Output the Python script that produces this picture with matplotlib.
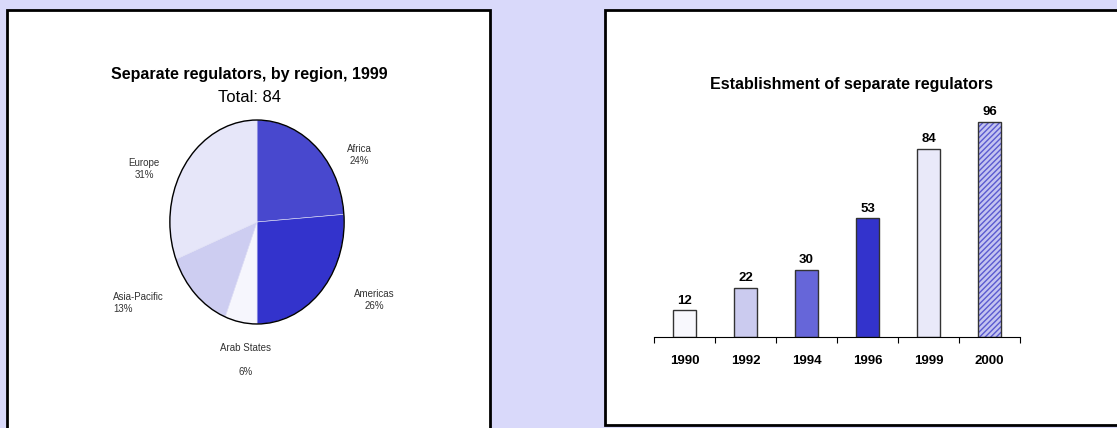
import numpy as np
import matplotlib
matplotlib.use('Agg')
import matplotlib.pyplot as plt
from matplotlib.patches import Rectangle, Ellipse

plt.rcParams['font.family'] = ['Liberation Sans', 'DejaVu Sans']
plt.rcParams['hatch.linewidth'] = 1.0

# pie data: separate regulators by region, 1999
regions = ['Africa', 'Americas', 'Arab States', 'Asia-Pacific', 'Europe']
region_counts = [20, 22, 5, 11, 26]
region_colors = ['#4848CE', '#3333CC', '#F6F6FD', '#CDCDF1', '#E6E6F9']

# bar data: establishment of separate regulators
years = ['1990', '1992', '1994', '1996', '1999', '2000']
regulators = [12, 22, 30, 53, 84, 96]
bar_colors = ['#F8F8FD', '#CBCBEF', '#6666D9', '#3333CC', '#E9E9F9', '#C4C4F0']

W, H = 1117, 428
fig = plt.figure(figsize=(W / 100, H / 100), dpi=100, facecolor='#D9D9FA')

def fx(px):
    return px / W

def fy(py):
    return 1 - py / H

# white panels with black frame
fig.patches.append(Rectangle((fx(7), fy(440)), fx(483), (440 - 10) / H,
                             transform=fig.transFigure, facecolor='white',
                             edgecolor='black', lw=2, zorder=-5))
fig.patches.append(Rectangle((fx(605), fy(425)), fx(530), (425 - 10) / H,
                             transform=fig.transFigure, facecolor='white',
                             edgecolor='black', lw=2, zorder=-5))

# ---- pie ----
total = sum(region_counts)
fig.text(fx(249), fy(74), 'Separate regulators, by region, 1999', ha='center',
         va='center', fontsize=11.5, fontweight='bold')
fig.text(fx(249), fy(97), 'Total: %d' % total, ha='center', va='center', fontsize=12)

ax1 = fig.add_axes([fx(257 - 88), fy(222 + 103), fx(176), 206 / H])
wedges, _ = ax1.pie(region_counts, colors=region_colors, startangle=90,
                    counterclock=False, wedgeprops=dict(linewidth=0.4, edgecolor='#E0E0F5'))
ax1.set_aspect('auto')
ax1.set_xlim(-1.01, 1.01)
ax1.set_ylim(-1.01, 1.01)
ax1.add_patch(Ellipse((0, 0), 2, 2, fill=False, edgecolor='black', lw=1))
ax1.axis('off')

# label anchors (pixels) and alignment for each region
label_pos = [(359, 155, 'center'), (374, 300, 'center'), (246, 360, 'center'),
             (113, 303, 'left'), (144, 169, 'center')]
for name, cnt, (px, py, ha) in zip(regions, region_counts, label_pos):
    pct = round(100.0 * cnt / total)
    gap = '\n\n' if name == 'Arab States' else '\n'
    fig.text(fx(px), fy(py), '%s%s%d%%' % (name, gap, pct), ha=ha, va='center',
             fontsize=7, color='#333333', multialignment=ha, linespacing=1.25)

# ---- bars ----
fig.text(fx(852), fy(84), 'Establishment of separate regulators', ha='center',
         va='center', fontsize=11.5, fontweight='bold')

ax2 = fig.add_axes([fx(654), fy(337), fx(366), 240 / H])
x = np.arange(len(years))
ax2.bar(x, regulators, width=0.39, color=bar_colors, edgecolor='none', lw=0)
# diagonal hatch on the last bar, drawn in blue
ax2.bar(x[-1:], regulators[-1:], width=0.39, color='none', edgecolor='#5A5AD0',
        hatch='//////', lw=0)
ax2.bar(x, regulators, width=0.39, color='none', edgecolor='#333333', lw=1)
for xi, v in zip(x, regulators):
    ax2.text(xi, v + 1.5, str(v), ha='center', va='bottom', fontsize=9.5, fontweight='bold')
ax2.set_xlim(-0.5, len(years) - 0.5)
ax2.set_ylim(0, 107)
for s in ['top', 'right', 'left']:
    ax2.spines[s].set_visible(False)
ax2.spines['bottom'].set_linewidth(0.8)
ax2.set_yticks([])
ax2.set_xticks(x)
ax2.set_xticklabels(years, fontsize=9.5, fontweight='bold')
ax2.tick_params(axis='x', which='major', length=0, pad=13)
ax2.set_xticks(np.arange(len(years) + 1) - 0.5, minor=True)
ax2.tick_params(axis='x', which='minor', length=4, direction='out', width=0.8)
ax2.patch.set_alpha(0)

fig.savefig('out.png', dpi=100, facecolor=fig.get_facecolor())
